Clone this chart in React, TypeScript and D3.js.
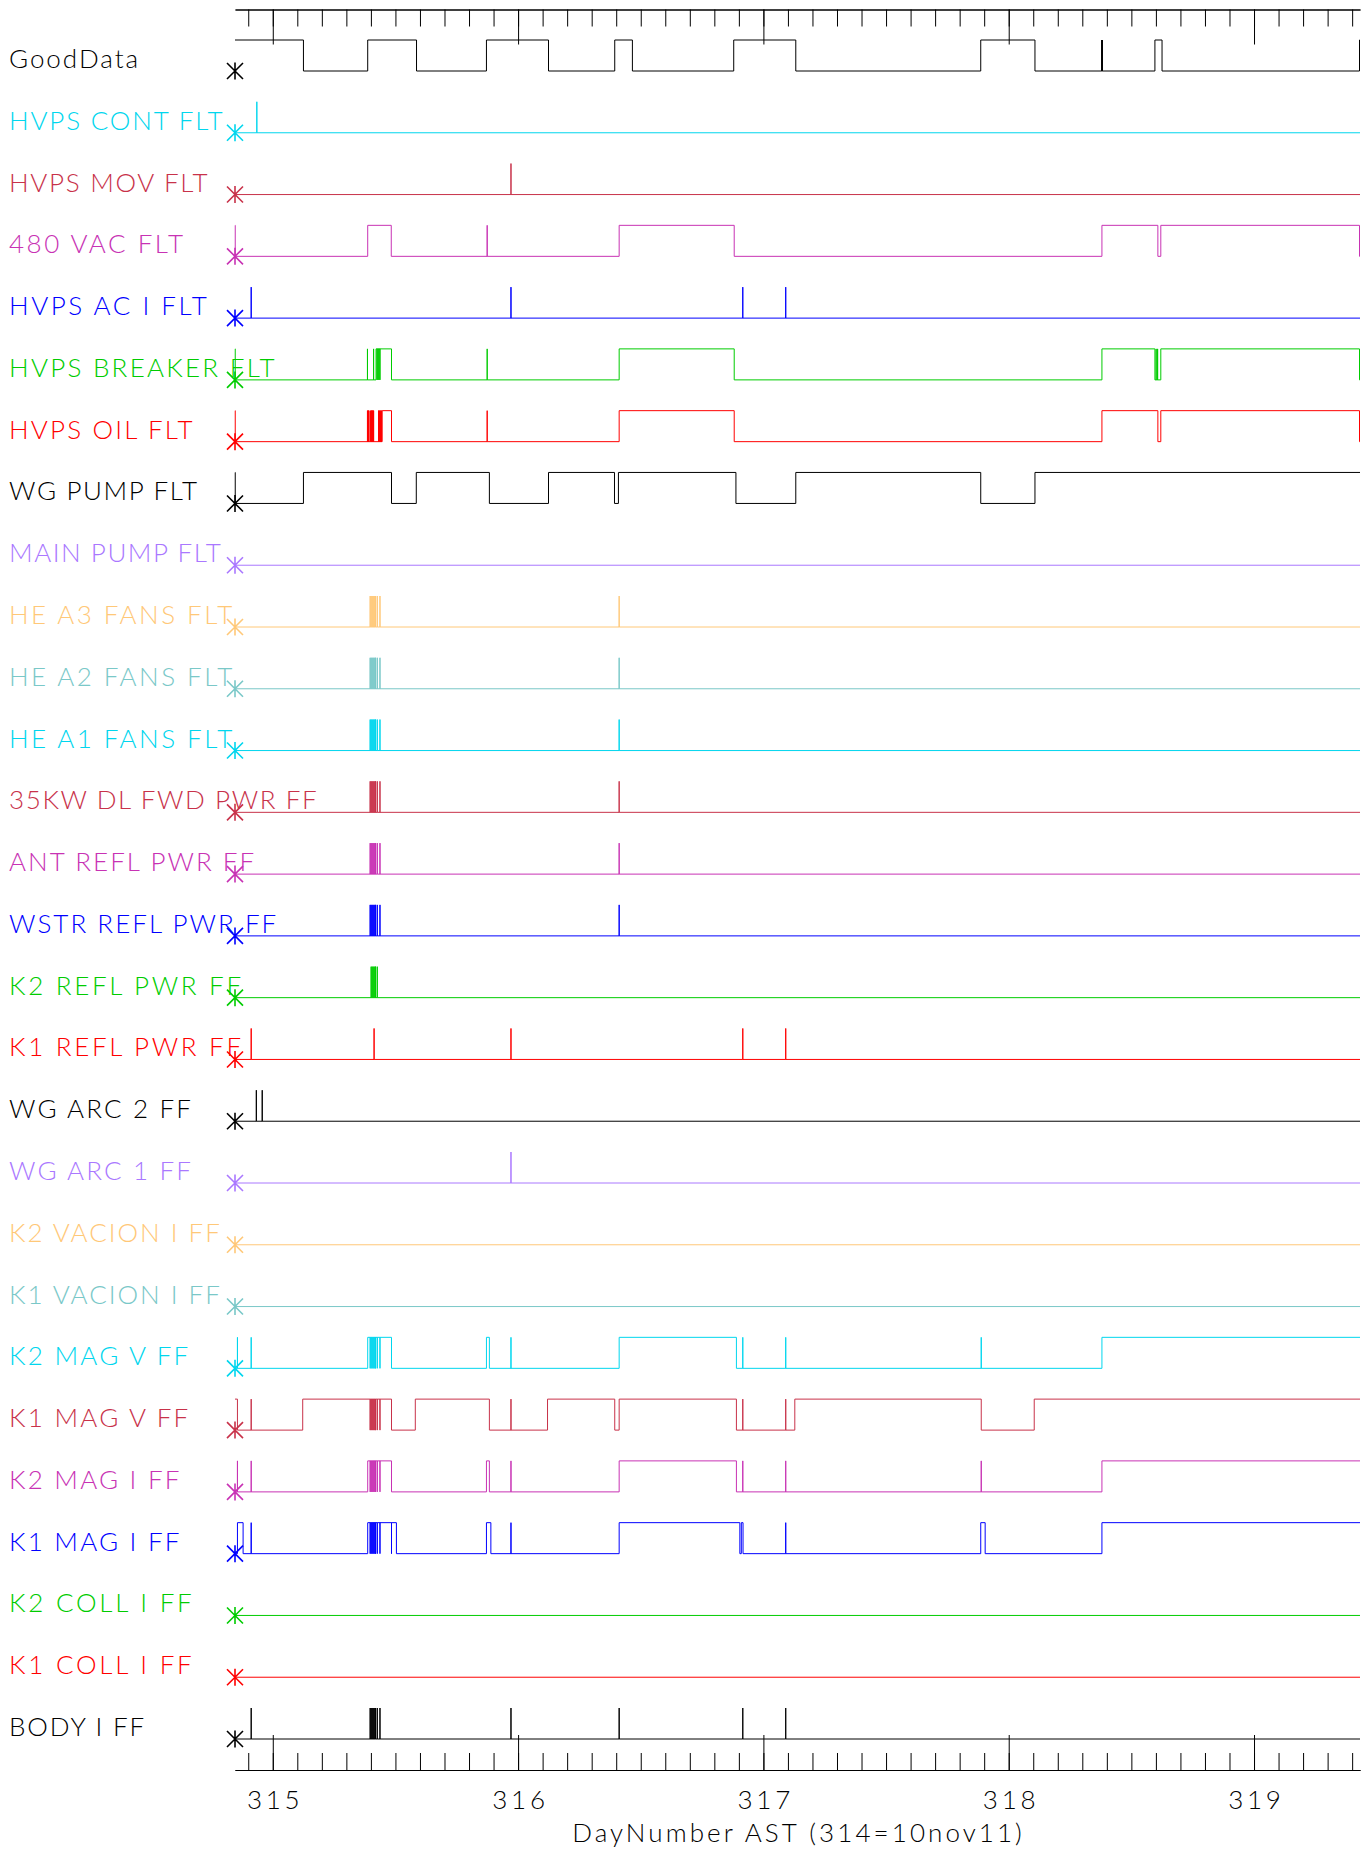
import { useEffect, useRef } from "react";
import * as d3 from "d3";

// x range of the plot, in day numbers
const dayRange = [314.846, 319.432];
const majorDays = [315, 316, 317, 318, 319];
const axisTitle = "DayNumber AST (314=10nov11)";

const labels = [
  "GoodData",
  "HVPS CONT FLT",
  "HVPS MOV FLT",
  "480 VAC FLT",
  "HVPS AC I FLT",
  "HVPS BREAKER FLT",
  "HVPS OIL FLT",
  "WG PUMP FLT",
  "MAIN PUMP FLT",
  "HE A3 FANS FLT",
  "HE A2 FANS FLT",
  "HE A1 FANS FLT",
  "35KW DL FWD PWR FF",
  "ANT REFL PWR FF",
  "WSTR REFL PWR FF",
  "K2 REFL PWR FF",
  "K1 REFL PWR FF",
  "WG ARC 2 FF",
  "WG ARC 1 FF",
  "K2 VACION I FF",
  "K1 VACION I FF",
  "K2 MAG V FF",
  "K1 MAG V FF",
  "K2 MAG I FF",
  "K1 MAG I FF",
  "K2 COLL I FF",
  "K1 COLL I FF",
  "BODY I FF",
];

// dense fault bursts around day 315.4
const fanBurst = [315.397, 315.401, 315.405, 315.409, 315.413, 315.417, 315.419, 315.426, 315.437];
const k2ReflBurst = [315.401, 315.405, 315.409, 315.413, 315.417, 315.419, 315.426];
const oilBurst = [
  315.386, 315.388, 315.39, 315.392, 315.399, 315.401, 315.403, 315.405, 315.407, 315.409, 315.411,
  315.431, 315.433, 315.436, 315.438, 315.441, 315.443,
];

// state at the left edge of each trace
const startStates = [
  1, 0, 0, 1, 0, 1, 1, 1, 0, 0, 0, 0, 0, 0, 0, 0, 0, 0, 0, 0, 0, 0, 1, 0, 0, 0, 0, 0,
];

// times where a trace changes state
const edgeTimes: number[][] = [
  [315.125, 315.387, 315.586, 315.871, 316.124, 316.394, 316.466, 316.879, 317.132, 317.886, 318.107, 318.596, 318.625, 319.43],
  [],
  [],
  [314.847, 315.387, 315.483, 316.412, 316.881, 318.38, 318.608, 318.62, 319.43],
  [],
  [314.847, 315.421, 315.484, 316.412, 316.881, 318.38, 318.596, 318.62, 319.43],
  [314.847, 315.446, 315.484, 316.412, 316.881, 318.38, 318.608, 318.62, 319.43],
  [314.847, 315.125, 315.484, 315.585, 315.883, 316.124, 316.393, 316.409, 316.888, 317.132, 317.886, 318.107],
  [],
  [],
  [],
  [],
  [],
  [],
  [],
  [],
  [],
  [],
  [],
  [],
  [],
  [315.387, 315.484, 315.871, 315.883, 316.412, 316.89, 318.38],
  [314.856, 315.122, 315.484, 315.581, 315.883, 316.12, 316.394, 316.412, 316.89, 317.128, 317.888, 318.104],
  [315.387, 315.484, 315.871, 315.883, 316.412, 316.89, 318.38],
  [314.856, 314.879, 315.387, 315.504, 315.871, 315.889, 316.412, 316.904, 316.91, 316.917, 317.886, 317.904, 318.38],
  [],
  [],
  [],
];

// momentary pulses (out and straight back)
const spikeTimes: number[][] = [
  [318.379, 318.382],
  [314.935],
  [315.971],
  [315.874],
  [314.912, 315.971, 316.916, 317.091],
  [315.386, 315.411, 315.425, 315.429, 315.433, 315.437, 315.874, 318.601, 318.607],
  [...oilBurst, 315.874],
  [],
  [],
  [...fanBurst, 316.412],
  [...fanBurst, 316.412],
  [...fanBurst, 316.412],
  [...fanBurst, 316.412],
  [...fanBurst, 316.412],
  [...fanBurst, 316.412],
  k2ReflBurst,
  [314.912, 315.413, 315.971, 316.916, 317.091],
  [314.933, 314.957],
  [315.971],
  [],
  [],
  [314.856, 314.912, ...fanBurst, 315.971, 316.916, 317.091, 317.888],
  [314.912, ...fanBurst, 315.971, 316.916, 317.091],
  [314.856, 314.912, ...fanBurst, 315.971, 316.916, 317.091, 317.888],
  [314.912, ...fanBurst, 315.484, 315.971, 317.091],
  [],
  [],
  [314.912, ...fanBurst, 315.971, 316.412, 316.916, 317.091],
];

const palette = [
  "#00d6ee", "#c8324a", "#c832b4", "#0000ff", "#00cc00",
  "#ff0000", "#000000", "#aa78ff", "#ffc878", "#7ac8c8",
];

// approximate Hershey simplex advance widths, used to size text
const glyphUnits: Record<string, number> = {
  " ": 16, A: 18, B: 21, C: 21, D: 21, E: 19, F: 18, G: 21, H: 22, I: 8, K: 21, L: 17,
  M: 24, N: 22, O: 22, P: 21, R: 21, S: 20, T: 16, U: 22, V: 18, W: 24, Y: 16,
  a: 19, b: 19, d: 19, e: 18, m: 30, n: 19, o: 19, r: 13, t: 12, u: 19, v: 16, y: 16,
  "(": 14, ")": 14, "=": 26,
};
const textWidth = (s: string) =>
  0.88 * s.split("").reduce((acc, c) => acc + (glyphUnits[c] ?? 20), 0);

function steps(start: number, edges: number[], spikes: number[]) {
  const events = [
    ...edges.map((t) => ({ t, spike: false })),
    ...spikes.map((t) => ({ t, spike: true })),
  ].sort((a, b) => a.t - b.t);
  let s = start;
  const pts: [number, number][] = [[dayRange[0], s]];
  for (const e of events) {
    if (e.spike) {
      pts.push([e.t, 1 - s], [e.t, s]);
    } else {
      s = 1 - s;
      pts.push([e.t, s]);
    }
  }
  pts.push([dayRange[1], s]);
  return pts;
}

export default function App() {
  const svgRef = useRef<SVGSVGElement>(null);

  useEffect(() => {
    if (!svgRef.current) return;
    const svg = d3.select(svgRef.current);
    svg.selectAll("*").remove();

    const font = "Lato, Roboto, 'DejaVu Sans', sans-serif";
    const fontSize = 26;
    const weight = 300;

    const x = d3.scaleLinear().domain(dayRange).range([235, 1360]);
    const row = d3.scalePoint<string>().domain(labels).range([71, 1739]);
    const level = d3.scaleLinear().domain([0, 1]).range([0, -31]);
    const colorOf = (i: number) => (i === 0 ? "#000000" : palette[(i - 1) % palette.length]);

    const line = d3
      .line<[number, number]>()
      .x((d) => x(d[0]))
      .y((d) => level(d[1]))
      .curve(d3.curveStepAfter);

    // Axes
    const minorTicks = x.ticks(46);
    const styleAxis = (g: d3.Selection<SVGGElement, unknown, null, undefined>) => {
      g.selectAll("path, line").attr("stroke", "#000").attr("stroke-width", 1);
    };

    const top = svg.append("g").attr("transform", "translate(0,9.5)");
    top.append("g").call(d3.axisTop(x).tickValues(minorTicks).tickSize(-17).tickSizeOuter(0).tickFormat(() => ""));
    top.append("g").call(d3.axisTop(x).tickValues(majorDays).tickSize(-35).tickSizeOuter(0).tickFormat(() => ""));
    styleAxis(top);

    const bottom = svg.append("g").attr("transform", "translate(0,1770)");
    bottom.append("g").call(d3.axisBottom(x).tickValues(minorTicks).tickSize(-17).tickSizeOuter(0).tickFormat(() => ""));
    const major = bottom
      .append("g")
      .call(
        d3
          .axisBottom(x)
          .tickValues(majorDays)
          .tickSize(-35)
          .tickSizeOuter(0)
          .tickPadding(21)
          .tickFormat((d) => String(d))
      );
    styleAxis(bottom);
    major
      .selectAll<SVGTextElement, number>("text")
      .attr("font-family", font)
      .attr("font-weight", weight)
      .attr("font-size", fontSize)
      .attr("fill", "#000")
      .attr("textLength", (d) => textWidth(String(d)))
      .attr("lengthAdjust", "spacing");
    major.attr("font-family", null).attr("font-size", null);

    svg
      .append("text")
      .attr("x", 797)
      .attr("y", 1842)
      .attr("text-anchor", "middle")
      .attr("font-family", font)
      .attr("font-weight", weight)
      .attr("font-size", fontSize)
      .attr("fill", "#000")
      .attr("textLength", textWidth(axisTitle))
      .attr("lengthAdjust", "spacing")
      .text(axisTitle);

    // Traces
    labels.forEach((label, i) => {
      const y = row(label)!;
      const color = colorOf(i);
      const g = svg.append("g").attr("transform", `translate(0,${y})`);

      g.append("text")
        .attr("x", 9)
        .attr("y", -3)
        .attr("font-family", font)
        .attr("font-weight", weight)
        .attr("font-size", fontSize)
        .attr("fill", color)
        .attr("textLength", textWidth(label) - 2)
        .attr("lengthAdjust", "spacing")
        .text(label);

      g.append("path")
        .datum(steps(startStates[i], edgeTimes[i], spikeTimes[i]))
        .attr("fill", "none")
        .attr("stroke", color)
        .attr("stroke-width", 1)
        .attr("d", line);

      // asterisk marker at the start of each trace
      g.append("path")
        .attr("transform", `translate(${x(dayRange[0])},0)`)
        .attr("d", "M0,-8.5V8.5M-8,-8L8,8M-8,8L8,-8")
        .attr("fill", "none")
        .attr("stroke", color)
        .attr("stroke-width", 1.6);
    });
  }, []);

  return (
    <svg
      ref={svgRef}
      width={1368}
      height={1853}
      style={{ position: "absolute", left: 0, top: 0, background: "#fff" }}
    />
  );
}
